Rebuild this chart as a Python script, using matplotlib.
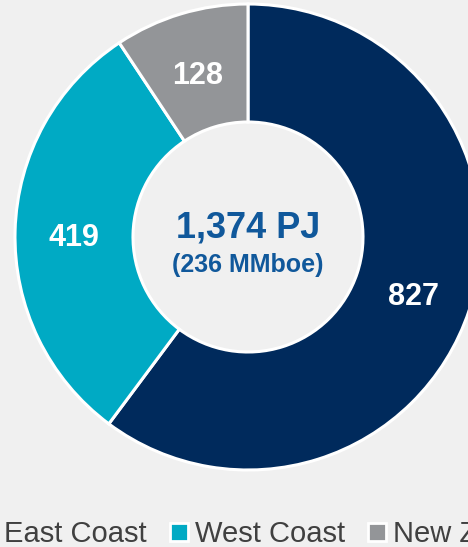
import matplotlib.pyplot as plt
from matplotlib.lines import Line2D
from matplotlib.transforms import offset_copy

# 地域別の埋蔵量 (PJ)
regions = ["East Coast", "West Coast", "New Zealand"]
reserves_pj = [827, 419, 128]
total_mmboe = 236
colors = ["#002a5c", "#00aac4", "#939598"]

bg = "#f0f0f0"
plt.rcParams["font.family"] = ["Liberation Sans", "DejaVu Sans"]

fig = plt.figure(figsize=(4.68, 5.47), dpi=100, facecolor=bg)
ax = fig.add_axes([0, 0, 1, 1])
ax.set_facecolor(bg)

total = sum(reserves_pj)
wedges, texts, autotexts = ax.pie(
    reserves_pj,
    colors=colors,
    startangle=90,
    counterclock=False,
    center=(248, 310),
    radius=233,
    autopct=lambda p: f"{p * total / 100:.0f}",
    pctdistance=0.747,
    wedgeprops=dict(width=118, edgecolor="white", linewidth=2.2),
    textprops=dict(color="white", fontsize=22, fontweight="bold"),
)

ax.set_xlim(0, 468)
ax.set_ylim(0, 547)
ax.set_aspect("equal")
ax.set_axis_off()

# 数値ラベルを少し下げる
shifted = offset_copy(ax.transData, fig=fig, y=-4, units="points")
for t in autotexts:
    t.set_transform(shifted)

ax.text(248, 319, f"{total:,} PJ", ha="center", va="center",
        fontsize=26, fontweight="bold", color="#10589b")
ax.text(248, 282, f"({total_mmboe} MMboe)", ha="center", va="center",
        fontsize=18, fontweight="bold", color="#10589b")

handles = [
    Line2D([], [], linestyle="none", marker="s", markersize=13,
           markerfacecolor=c, markeredgecolor="white", markeredgewidth=2)
    for c in colors
]
fig.legend(handles, regions, loc="center", bbox_to_anchor=(0.5797, 0.0232),
           ncol=3, frameon=False, fontsize=21, labelcolor="#404040",
           handlelength=0.7, handletextpad=0.2, columnspacing=0.74)

plt.savefig("out.png", dpi=100, facecolor=bg)
